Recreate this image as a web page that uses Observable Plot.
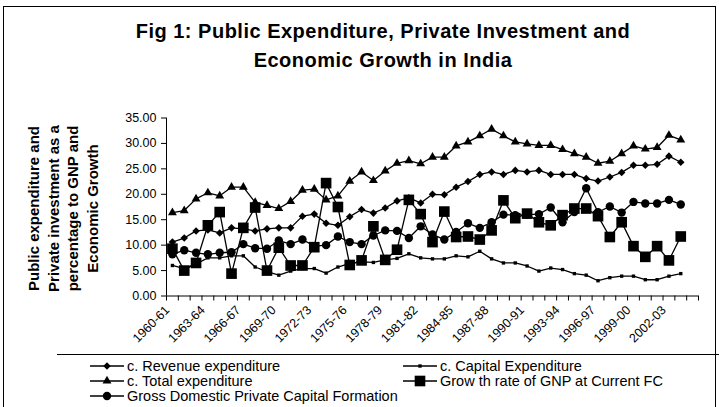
<!DOCTYPE html>
<html><head><meta charset="utf-8">
<script src="https://cdn.jsdelivr.net/npm/d3@7"></script>
<script src="https://cdn.jsdelivr.net/npm/@observablehq/plot@0.6"></script>
<style>
body{margin:0;background:#fff;}
#chart{position:relative;width:719px;height:407px;overflow:hidden;font-family:"Liberation Sans",Arial,sans-serif;color:#000;background:#fff;}
#frame{position:absolute;left:3px;top:6px;width:713px;height:420px;border:1px solid #000;box-sizing:border-box;}
#title{position:absolute;left:0;top:17px;width:766px;text-align:center;font-weight:bold;font-size:20px;letter-spacing:0.5px;line-height:29px;}
#ytitle{position:absolute;width:220px;left:-47.5px;top:168.6px;height:79px;text-align:center;font-weight:bold;font-size:15px;line-height:19.7px;transform:rotate(-90deg);white-space:nowrap;}
#plot{position:absolute;left:0;top:0;}
#legend{position:absolute;left:0;top:0;}
</style>
</head><body>
<div id="chart">
  <div id="frame"></div>
  <div id="title">Fig 1: Public Expenditure, Private Investment and<br>Economic Growth in India</div>
  <div id="ytitle">Public expenditure and<br>Private investment as a<br>percentage to GNP and<br>Economic Growth</div>
  <div id="plot"></div>
  <svg id="legend" width="719" height="407"></svg>
</div>
<script>
const years = ["1960-61","1961-62","1962-63","1963-64","1964-65","1965-66","1966-67","1967-68","1968-69","1969-70",
"1970-71","1971-72","1972-73","1973-74","1974-75","1975-76","1976-77","1977-78","1978-79","1979-80",
"1980-81","1981-82","1982-83","1983-84","1984-85","1985-86","1986-87","1987-88","1988-89","1989-90",
"1990-91","1991-92","1992-93","1993-94","1994-95","1995-96","1996-97","1997-98","1998-99","1999-00",
"2000-01","2001-02","2002-03","2003-04","2004-05"];

const revenueExp = [10.6,11.4,12.8,13.0,12.4,13.4,13.2,12.8,13.2,13.4,
13.4,15.7,16.1,14.3,13.9,15.6,17.0,16.3,17.3,18.7,
19.3,18.3,20.0,19.9,21.4,22.5,23.9,24.4,23.9,24.7,
24.4,24.7,23.9,23.9,23.9,23.1,22.6,23.4,24.3,25.7,
25.7,25.9,27.5,26.3];

const capitalExp = [6.0,5.4,6.3,7.5,7.5,7.9,7.9,5.7,4.8,4.1,
4.9,5.4,5.4,4.5,5.7,6.4,6.7,6.6,7.1,7.4,
8.3,7.5,7.3,7.3,7.9,7.7,8.8,7.3,6.5,6.5,
5.9,4.9,5.5,5.2,4.4,4.1,3.0,3.6,3.9,3.9,
3.2,3.2,3.9,4.4];

const totalExp = [16.4,16.8,19.1,20.3,19.7,21.4,21.4,18.4,17.8,17.2,
18.6,20.8,21.0,18.9,19.7,22.6,24.4,22.7,24.6,26.1,
26.6,26.0,27.3,27.3,29.5,30.3,31.5,32.8,31.5,30.3,
29.9,29.6,29.6,28.8,28.0,27.3,26.1,26.5,28.0,29.5,
28.9,29.2,31.6,30.7];

const growthGNP = [9.3,5.0,6.5,13.9,16.5,4.4,13.4,17.4,5.0,9.5,
6.0,6.0,9.6,22.2,17.5,6.1,7.0,13.7,7.1,9.1,
18.9,16.1,10.6,16.6,11.6,11.7,11.1,12.9,18.8,15.3,
16.2,14.5,13.9,15.9,17.2,17.2,15.7,11.6,14.5,9.8,
7.7,9.8,7.0,11.7];

const privateCap = [8.2,9.0,8.5,8.2,8.5,8.6,10.2,9.4,9.3,10.9,
10.2,11.1,9.8,10.0,11.7,10.6,10.2,11.9,12.9,12.8,
11.4,13.7,12.1,11.1,12.6,14.3,13.4,14.5,16.0,15.9,
16.0,16.1,17.4,14.5,16.5,21.2,16.5,17.6,16.4,18.5,
18.2,18.2,18.9,18.0];

const yTicks = [0,5,10,15,20,25,30,35];
const labelEvery = 3;

const series = [
  {name:"c. Revenue expenditure", values:revenueExp, symbol:"diamond2", r:3.4},
  {name:"c. Capital Expenditure", values:capitalExp, symbol:"square", r:1.9},
  {name:"c. Total expenditure", values:totalExp, symbol:"triangle", r:3.3},
  {name:"Grow th rate of GNP at Current FC", values:growthGNP, symbol:"square", r:6.0},
  {name:"Gross Domestic Private Capital Formation", values:privateCap, symbol:"circle", r:4.2}
];

const font = '"Liberation Sans", Arial, sans-serif';
const marks = [];
for (const s of series) {
  const data = s.values.map((v,i)=>({x:i+0.5, y:v}));
  marks.push(Plot.line(data,{x:"x",y:"y",stroke:"#000",strokeWidth:1.3}));
  marks.push(Plot.dot(data,{x:"x",y:"y",symbol:()=>s.symbol,r:s.r,fill:"#000",stroke:"none"}));
}

const labelTicks = d3.range(0, years.length - 1, labelEvery).map(i=>i+0.5);

const chart = Plot.plot({
  width:719, height:357,
  marginLeft:166, marginRight:21, marginTop:117.5, marginBottom:61.5,
  x:{domain:[0, years.length], label:null},
  y:{domain:[0,35], label:null},
  symbol:{type:"identity"},
  style:{fontFamily:font, color:"#000", background:"transparent", overflow:"visible"},
  marks:[
    Plot.axisY(yTicks,{tickSize:5, tickPadding:5, tickFormat:d=>d.toFixed(2), fontSize:12.5, label:null}),
    Plot.axisX(d3.range(years.length+1),{tickSize:5, tickFormat:()=> "", label:null}),
    Plot.axisX(labelTicks,{tickSize:0, tickPadding:12, tickRotate:-45, dx:-5, tickFormat:d=>years[Math.round(d-0.5)], fontSize:12.5, label:null}),
    Plot.ruleY([0],{stroke:"#000"}),
    Plot.ruleX([0],{stroke:"#000"}),
    ...marks
  ]
});
document.getElementById("plot").appendChild(chart);

// legend
const lg = d3.select("#legend");
lg.append("line").attr("x1",57).attr("x2",719).attr("y1",354.5).attr("y2",354.5).attr("stroke","#000");
const symMap = {diamond2:d3.symbolDiamond2, square:d3.symbolSquare, triangle:d3.symbolTriangle, circle:d3.symbolCircle};
const pos = [[90,366],[403,366],[90,381],[403,381],[90,396]];
series.forEach((s,k)=>{
  const [x0,y0] = pos[k];
  const g = lg.append("g");
  g.append("line").attr("x1",x0).attr("x2",x0+34).attr("y1",y0).attr("y2",y0).attr("stroke","#000").attr("stroke-width",1.3);
  g.append("path").attr("d", d3.symbol(symMap[s.symbol], Math.PI*s.r*s.r)()).attr("transform",`translate(${x0+17},${y0})`).attr("fill","#000");
  g.append("text").attr("x",x0+37).attr("y",y0+5).attr("font-size",14.5).attr("font-family",font).text(s.name);
});
</script>
</body></html>
